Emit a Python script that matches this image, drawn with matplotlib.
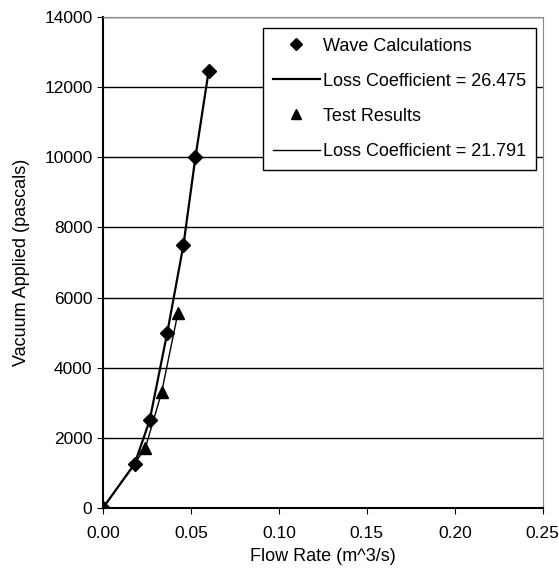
import numpy as np
import matplotlib
matplotlib.use("Agg")
import matplotlib.pyplot as plt
from matplotlib.lines import Line2D

plt.rcParams['font.family'] = ['Liberation Sans', 'DejaVu Sans']

# wave calculations
wave_q = [0.0, 0.018, 0.0266, 0.0366, 0.0458, 0.0526, 0.0601]
wave_p = [0, 1250, 2500, 5000, 7500, 10000, 12450]
# test results
test_q = [0.0, 0.0241, 0.0334, 0.0426]
test_p = [0, 1700, 3300, 5550]

fig = plt.figure(figsize=(5.59, 5.77), dpi=100)
ax = fig.add_axes([0.184, 0.1196, 0.787, 0.851])

ax.plot(wave_q, wave_p, color='black', lw=1.6, zorder=3)
ax.plot(test_q, test_p, color='black', lw=1.0, zorder=3)
ax.plot(wave_q, wave_p, ls='none', marker='D', ms=7, color='black', zorder=4)
ax.plot(test_q[1:], test_p[1:], ls='none', marker='^', ms=8, color='black', zorder=4)

ax.set_xlim(0, 0.25)
ax.set_ylim(0, 14000)
ax.set_xticks(np.arange(0, 0.26, 0.05))
ax.set_yticks(np.arange(0, 14001, 2000))
ax.xaxis.set_major_formatter(plt.FormatStrFormatter('%.2f'))
ax.tick_params(labelsize=12.5, length=4, color='black')
ax.tick_params(axis='x', pad=9)
ax.yaxis.grid(True, color='black', lw=1)
ax.set_axisbelow(True)
for s in ['top', 'right']:
    ax.spines[s].set_color('#888888')
    ax.spines[s].set_linestyle((0, (1, 1)))
ax.spines['left'].set_linewidth(1.5)
ax.spines['bottom'].set_linewidth(1.5)

ax.set_xlabel('Flow Rate (m^3/s)', fontsize=13, labelpad=5)
ax.set_ylabel('Vacuum Applied (pascals)', fontsize=13, labelpad=10)

handles = [
    Line2D([], [], ls='none', marker='D', ms=6, color='black'),
    Line2D([], [], color='black', lw=1.6),
    Line2D([], [], ls='none', marker='^', ms=7, color='black'),
    Line2D([], [], color='black', lw=1.0),
]
labels = ['Wave Calculations', 'Loss Coefficient = 26.475',
          'Test Results', 'Loss Coefficient = 21.791']
leg = ax.legend(handles, labels, loc='upper right', bbox_to_anchor=(0.985, 0.978),
                fontsize=13, frameon=True, fancybox=False, handlelength=2.6,
                handletextpad=0.2, labelspacing=1.0, borderpad=0.55,
                borderaxespad=0)
leg.get_frame().set_edgecolor('black')
leg.get_frame().set_linewidth(1.0)
leg.get_frame().set_alpha(1)

fig.savefig('out.png', dpi=100)
